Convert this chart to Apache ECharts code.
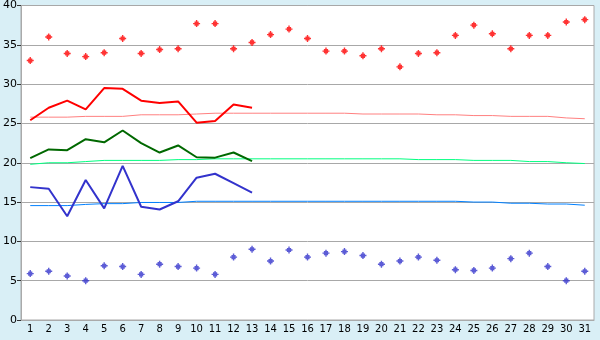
<!DOCTYPE html>
<html><head><meta charset="utf-8">
<script src="https://cdn.jsdelivr.net/npm/echarts@6/dist/echarts.min.js"></script>
<style>html,body{margin:0;padding:0;background:#d9eff6}#c{width:600px;height:340px}</style>
</head><body><div id="c"></div>
<script>
const days = Array.from({length:31},(_, i)=>String(i+1));
const recordMax = [33.0,36.0,33.9,33.5,34.0,35.8,33.9,34.4,34.5,37.7,37.7,34.5,35.3,36.3,37.0,35.8,34.2,34.2,33.6,34.5,32.2,33.9,34.0,36.2,37.5,36.4,34.5,36.2,36.2,37.9,38.2];
const recordMin = [5.9,6.2,5.6,5.0,6.9,6.8,5.8,7.1,6.8,6.6,5.8,8.0,9.0,7.5,8.9,8.0,8.5,8.7,8.2,7.1,7.5,8.0,7.6,6.4,6.3,6.6,7.8,8.5,6.8,5.0,6.2];
const tMax = [25.4,27.0,27.9,26.8,29.5,29.4,27.9,27.6,27.8,25.1,25.3,27.4,27.0];
const tMean = [20.6,21.7,21.6,23.0,22.6,24.1,22.5,21.3,22.2,20.7,20.65,21.3,20.2];
const tMin = [16.9,16.7,13.2,17.8,14.2,19.6,14.4,14.05,15.1,18.1,18.6,17.4,16.2];
const normMax = [25.8,25.8,25.8,25.9,25.9,25.9,26.1,26.1,26.1,26.2,26.3,26.3,26.3,26.3,26.3,26.3,26.3,26.3,26.2,26.2,26.2,26.2,26.1,26.1,26.0,26.0,25.9,25.9,25.9,25.7,25.6];
const normMean = [19.8,20.0,20.0,20.15,20.3,20.3,20.3,20.3,20.4,20.4,20.5,20.5,20.5,20.5,20.5,20.5,20.5,20.5,20.5,20.5,20.5,20.4,20.4,20.4,20.3,20.3,20.3,20.15,20.15,20.0,19.9];
const normMin = [14.55,14.55,14.55,14.7,14.8,14.8,14.95,14.95,14.95,15.1,15.1,15.1,15.1,15.1,15.1,15.1,15.1,15.1,15.1,15.1,15.1,15.1,15.1,15.1,15.0,15.0,14.85,14.85,14.75,14.75,14.6];
const yTicks = [0,5,10,15,20,25,30,35,40];

const chart = echarts.init(document.getElementById('c'), null, {renderer:'canvas'});
const line = (data, color, width, z) => ({type:'line', data, symbol:'none', lineStyle:{color, width}, itemStyle:{color}, z, silent:true});
const marker = 'path://M2,0H3V1H4V2H5V3H4V4H3V5H2V4H1V3H0V2H1V1H2Z';
const pts = (data, color) => ({type:'scatter', data, symbol:marker, symbolSize:7, itemStyle:{color}, z:5, silent:true});
chart.setOption({
  animation:false,
  backgroundColor:'#d9eff6',
  grid:{left:20, right:6, top:5, bottom:20, show:true, backgroundColor:'#ffffff', borderColor:'#aaaaaa', borderWidth:1},
  xAxis:{type:'category', data:days, boundaryGap:true,
    axisLine:{lineStyle:{color:'#aaaaaa'}},
    axisTick:{alignWithLabel:true, length:4, lineStyle:{color:'#333'}},
    axisLabel:{color:'#000', fontFamily:'DejaVu Sans', fontSize:10, margin:4, interval:0},
    splitLine:{show:false}},
  yAxis:{type:'value', min:0, max:40, interval:5,
    axisLine:{show:true, lineStyle:{color:'#aaaaaa'}},
    axisTick:{show:true, length:4, lineStyle:{color:'#333'}},
    axisLabel:{color:'#000', fontFamily:'DejaVu Sans', fontSize:11, margin:4, formatter:v=>yTicks.includes(v)?String(v):''},
    splitLine:{lineStyle:{color:'#a8a8a8', width:1}}},
  series:[
    line(normMax,'#ff8080',1,2),
    line(normMean,'#00ff80',1,2),
    line(normMin,'#0080ff',1,2),
    line(tMax,'#ff0000',2,3),
    line(tMean,'#006800',2,3),
    line(tMin,'#3333cc',2,3),
    pts(recordMax,'#ff0000'),
    pts(recordMin,'#3333cc')
  ]
});
</script></body></html>
